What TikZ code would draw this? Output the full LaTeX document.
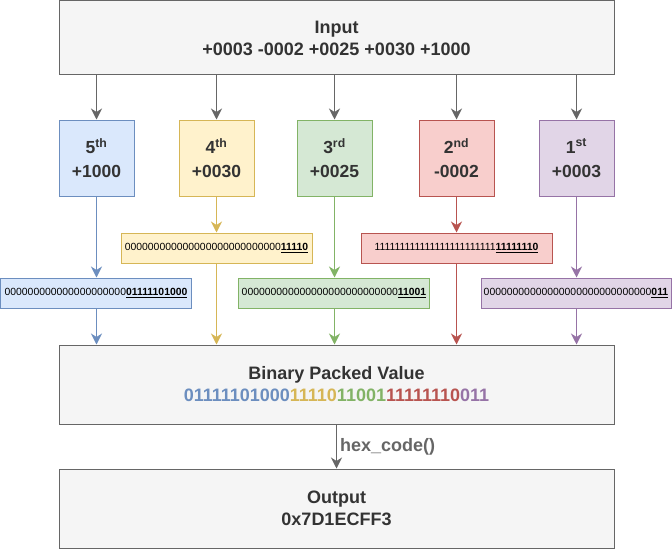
\documentclass[tikz,border=0pt]{standalone}
\usepackage{fontspec}
\setmainfont{Liberation Sans}
\usetikzlibrary{arrows.meta}
\definecolor{txt}{HTML}{333333}
\definecolor{gline}{HTML}{666666}
\definecolor{gfill}{HTML}{F5F5F5}
\definecolor{bfill}{HTML}{DAE8FC}\definecolor{bline}{HTML}{6C8EBF}
\definecolor{yfill}{HTML}{FFF2CC}\definecolor{yline}{HTML}{D6B656}
\definecolor{grfill}{HTML}{D5E8D4}\definecolor{grline}{HTML}{82B366}
\definecolor{rfill}{HTML}{F8CECC}\definecolor{rline}{HTML}{B85450}
\definecolor{pfill}{HTML}{E1D5E7}\definecolor{pline}{HTML}{9673A6}
\tikzset{
  base/.style={rectangle, draw, line width=1pt, inner sep=0pt, align=center, text=txt},
  bigbox/.style={base, draw=gline, fill=gfill, minimum width=555pt, font=\fontsize{18}{22}\selectfont\bfseries},
  colbox/.style={base, minimum width=75pt, minimum height=76pt, font=\fontsize{17.5}{24}\selectfont\bfseries},
  bitbox/.style={base, minimum width=191pt, minimum height=30pt, text=black, font=\fontsize{10.4}{12}\selectfont},
  arr/.style={line width=1pt, -{Stealth[length=11pt,width=11pt,inset=3.5pt]}},
}
\newcommand{\ub}[1]{\underline{\textbf{#1}}}
\begin{document}
\begin{tikzpicture}[x=1pt,y=-1pt]
\useasboundingbox (0,0) rectangle (672,551);
\node[bigbox, minimum height=74pt] (input) at (336.5,38) {Input\\+0003 -0002 +0025 +0030 +1000};
\node[colbox, draw=bline, fill=bfill] (c5) at (96.5,158) {5\textsuperscript{th}\\+1000};
\node[colbox, draw=yline, fill=yfill] (c4) at (216.5,158) {4\textsuperscript{th}\\+0030};
\node[colbox, draw=grline, fill=grfill] (c3) at (334.5,158) {3\textsuperscript{rd}\\+0025};
\node[colbox, draw=rline, fill=rfill] (c2) at (456.5,158) {2\textsuperscript{nd}\\-0002};
\node[colbox, draw=pline, fill=pfill] (c1) at (576.5,158) {1\textsuperscript{st}\\+0003};

\node[bitbox, draw=yline, fill=yfill] (b4) at (216.5,248) {000000000000000000000000000\ub{11110}};
\node[bitbox, draw=rline, fill=rfill] (b2) at (456.5,248) {111111111111111111111111\ub{11111110}};
\node[bitbox, draw=bline, fill=bfill] (b5) at (96,293) {000000000000000000000\ub{01111101000}};
\node[bitbox, draw=grline, fill=grfill] (b3) at (334,293) {000000000000000000000000000\ub{11001}};
\node[bitbox, draw=pline, fill=pfill, minimum width=190pt] (b1) at (576,293) {00000000000000000000000000000\ub{011}};

\node[bigbox, minimum height=79pt] (packed) at (336.5,384.5) {Binary Packed Value\\\textcolor{bline}{01111101000}\textcolor{yline}{11110}\textcolor{grline}{11001}\textcolor{rline}{11111110}\textcolor{pline}{011}};
\node[bigbox, minimum height=79pt] (output) at (336.5,508.5) {Output\\0x7D1ECFF3};

\foreach \c in {c5,c4,c3,c2,c1}
  \draw[arr, gline] (\c |- input.south) -- (\c.north);

\draw[arr, bline] (c5.south) -- (c5.south |- b5.north);
\draw[arr, bline] (b5.south -| c5) -- (c5 |- packed.north);
\draw[arr, yline] (c4.south) -- (b4.north);
\draw[arr, yline] (b4.south) -- (b4 |- packed.north);
\draw[arr, grline] (c3.south) -- (c3.south |- b3.north);
\draw[arr, grline] (b3.south -| c3) -- (c3 |- packed.north);
\draw[arr, rline] (c2.south) -- (b2.north);
\draw[arr, rline] (b2.south) -- (b2 |- packed.north);
\draw[arr, pline] (c1.south) -- (c1.south |- b1.north);
\draw[arr, pline] (b1.south -| c1) -- (c1 |- packed.north);

\draw[arr, gline] (packed.south) -- node[right, text=gline, font=\fontsize{18}{20}\selectfont\bfseries, inner sep=3pt] (hex) {hex\_code()} (output.north);
\end{tikzpicture}
\end{document}
